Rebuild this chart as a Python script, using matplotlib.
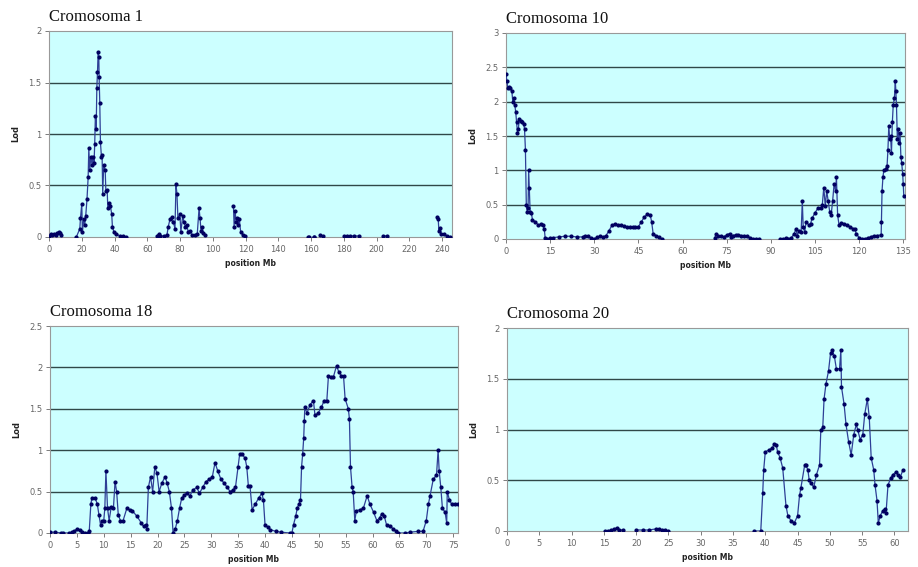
import numpy as np
import matplotlib
matplotlib.use("Agg")
import matplotlib.pyplot as plt
from matplotlib.ticker import FuncFormatter

nan = np.nan

# Cromosoma 1 (nan breaks the line between marker blocks)
chr1_pos = [0, 1, 2, 3, 4, 5, 6, 7, 7.5, nan,
            16.7, 18.8, 19.2, 20, 20.4, 21.2, 21.8, 22.4, 23.2, 23.9, 24.3, 24.9,
            25.5, 26.3, 26.9, 27.5, 27.9, 28.3, 28.8, 29.2, 29.6, 30, 30.4, 30.6,
            31, 31.4, 32, 32.4, 32.8, 33.4, 34.3, 34.7, 35.5, 35.9, 36.7, 37.5,
            38.3, 38.7, 39.6, 41.2, 43.2, 45, 47.3, nan,
            65.7, 67, 68, 70, 72, 72.8, 73.8, 74.8, 75.9, 76.9, 77.5, 78.1,
            78.7, 79.9, 80.5, 81.6, 82.4, 83.2, 84, 85, 86.1, 87.1, 89.1, 90.5,
            91.6, 92.2, 92.8, 93.4, 94.2, 95.2, nan,
            112.6, 113, 113.6, 114.2, 115, 115.6, 116.2, 117, 118.3, 119.7, nan,
            158.4, 159, nan, 161.5, 162, nan, 165.6, 167.2, nan,
            179.9, 182, 184, 186, 189, nan, 203.9, 206.4, nan,
            237, 237.6, 238, 238.6, 239.4, 241, 243, 244.7]
chr1_lod = [0.01, 0.03, 0.02, 0.03, 0.02, 0.04, 0.05, 0.04, 0.02, nan,
            0.0, 0.08, 0.18, 0.32, 0.05, 0.17, 0.12, 0.2, 0.37, 0.58, 0.86, 0.65,
            0.78, 0.7, 0.78, 0.72, 0.9, 1.17, 1.05, 1.45, 1.6, 1.8, 1.75, 1.55,
            1.3, 0.92, 0.78, 0.8, 0.42, 0.7, 0.65, 0.45, 0.46, 0.28, 0.33, 0.3,
            0.22, 0.1, 0.05, 0.03, 0.01, 0.01, 0.0, nan,
            0.01, 0.03, 0.01, 0.01, 0.02, 0.1, 0.17, 0.19, 0.15, 0.08, 0.51, 0.42,
            0.18, 0.22, 0.05, 0.2, 0.15, 0.1, 0.12, 0.05, 0.06, 0.02, 0.02, 0.03,
            0.28, 0.18, 0.06, 0.1, 0.04, 0.02, nan,
            0.3, 0.1, 0.25, 0.15, 0.18, 0.12, 0.17, 0.05, 0.02, 0.01, nan,
            0.0, 0.0, nan, 0.0, 0.0, nan, 0.02, 0.01, nan,
            0.01, 0.01, 0.01, 0.01, 0.01, nan, 0.01, 0.01, nan,
            0.19, 0.17, 0.06, 0.09, 0.03, 0.03, 0.01, 0.0]

# Cromosoma 10
chr10_pos = [0, 0.3, 0.6, 1, 1.5, 2, 2.3, 2.6, 3, 3.3,
             3.6, 3.9, 4.2, 4.5, 5, 5.5, 6, 6.3, 6.6, 6.9,
             7.2, 7.5, 7.7, 7.9, 8.2, 8.6, 9, 10, 11, 12,
             12.5, 13, 13.3, 14, 15, 16, 18, 20, 22, 24,
             26, 27, 28, 29, 30, 31, 32, 33, 34, 35,
             36, 37, 38, 39, 40, 41, 42, 43, 44, 45,
             46, 47, 48, 49, 49.5, 50, 51, 52, 53, nan,
             71, 71.5, 72, 73, 74, 75, 76, 76.5, 77, 78,
             79, 80, 81, 82, 83, 84, 85, 86, nan,
             93, 94, 95, 96, 97, 98, 98.5, 99, 99.5, 100.3,
             100.7, 101, 101.5, 102, 103, 103.5, 104, 105, 106, 107,
             107.5, 108, 108.5, 109, 109.5, 110, 110.5, 111, 111.5, 112,
             112.3, 112.7, 113.2, 114, 115, 116, 117, 118, 118.5, 119,
             120, 121, 122, 123, 124, 125, 126, 127.5, 127.6, 127.8,
             128.1, 128.4, 129, 129.5, 129.8, 130.1, 130.4, 130.7, 131, 131.3,
             131.6, 132, 132.3, 132.5, 132.7, 133, 133.3, 133.6, 133.9, 134.2,
             134.5, 134.8, 135, 135.2]
chr10_lod = [2.4, 2.3, 2.2, 2.22, 2.2, 2.15, 2.0, 2.05, 1.95, 1.85,
             1.7, 1.55, 1.6, 1.75, 1.72, 1.7, 1.68, 1.6, 1.3, 0.5,
             0.4, 0.45, 1.0, 0.75, 0.4, 0.38, 0.28, 0.25, 0.2, 0.22,
             0.2, 0.15, 0.02, 0.0, 0.01, 0.02, 0.03, 0.04, 0.04, 0.03,
             0.03, 0.05, 0.04, 0.01, 0.0, 0.03, 0.04, 0.03, 0.05, 0.12,
             0.2, 0.22, 0.2, 0.2, 0.19, 0.18, 0.18, 0.18, 0.17, 0.18,
             0.25, 0.32, 0.36, 0.35, 0.25, 0.08, 0.05, 0.03, 0.0, nan,
             0.02, 0.08, 0.04, 0.05, 0.03, 0.06, 0.08, 0.03, 0.05, 0.06,
             0.06, 0.05, 0.05, 0.04, 0.02, 0.0, 0.0, 0.0, nan,
             0.0, 0.0, 0.01, 0.0, 0.02, 0.08, 0.15, 0.05, 0.12, 0.1,
             0.55, 0.18, 0.1, 0.25, 0.2, 0.22, 0.3, 0.38, 0.45, 0.45,
             0.5, 0.75, 0.48, 0.7, 0.55, 0.4, 0.35, 0.55, 0.8, 0.7,
             0.9, 0.35, 0.2, 0.24, 0.22, 0.2, 0.18, 0.15, 0.15, 0.08,
             0.02, 0.0, 0.0, 0.02, 0.03, 0.05, 0.05, 0.06, 0.25, 0.7,
             0.9, 1.0, 1.02, 1.06, 1.3, 1.65, 1.45, 1.5, 1.25, 1.7,
             1.95, 2.05, 2.3, 2.15, 1.95, 1.45, 1.6, 1.4, 1.55, 1.2,
             1.1, 0.95, 0.8, 0.62]

# Cromosoma 18
chr18_pos = [0, 1, 2, 2.5, 3.5, 4, 4.5, 5, 5.5, 6,
             6.5, 7, 7.3, 7.6, 7.8, 8.4, 8.8, 9.1, 9.4, 9.7,
             10, 10.2, 10.4, 10.7, 11, 11.4, 11.8, 12.1, 12.4, 12.7,
             13.1, 13.6, 14.3, 14.8, 15.3, 16.2, 17, 17.4, 17.8, 18,
             18.3, 18.7, 19.1, 19.5, 19.9, 20.3, 20.8, 21.4, 21.8, 22.2,
             22.6, 22.9, 23.3, 23.7, 24.1, 24.5, 25, 25.4, 26, 26.6,
             27.3, 27.8, 28.4, 29, 29.6, 30.2, 30.7, 31.2, 31.8, 32.4,
             33, 33.5, 34, 34.5, 35, 35.3, 35.8, 36.3, 36.6, 36.9,
             37.2, 37.6, 38.2, 38.8, 39.4, 39.7, 40, 40.5, 41, 42,
             43, 44.6, 45, 45.3, 45.7, 46, 46.3, 46.6, 46.8, 47,
             47.2, 47.3, 47.4, 47.8, 48.4, 49, 49.3, 49.9, 50.5, 51,
             51.5, 51.8, 52.2, 52.7, 53.3, 53.7, 54.2, 54.6, 54.9, 55.5,
             55.7, 55.9, 56.2, 56.4, 56.7, 57, 57.6, 58.3, 59, 59.5,
             60.2, 60.8, 61.3, 61.7, 62.2, 62.6, 63.2, 63.9, 64.3, 64.8,
             66, 67, 68.5, 69.4, 70, 70.4, 70.7, 71.3, 71.9, 72.2,
             72.4, 72.7, 73, 73.5, 73.8, 73.9, 74.3, 74.7, 75.3, 75.9]
chr18_lod = [0.01, 0.01, 0.0, 0.0, 0.0, 0.01, 0.02, 0.05, 0.04, 0.01,
             0.0, 0.0, 0.02, 0.35, 0.42, 0.42, 0.35, 0.22, 0.1, 0.15,
             0.15, 0.3, 0.75, 0.3, 0.15, 0.32, 0.3, 0.62, 0.5, 0.22,
             0.15, 0.15, 0.3, 0.28, 0.27, 0.2, 0.12, 0.08, 0.1, 0.05,
             0.55, 0.68, 0.5, 0.8, 0.72, 0.5, 0.6, 0.68, 0.6, 0.5,
             0.3, 0.0, 0.05, 0.15, 0.3, 0.42, 0.46, 0.48, 0.45, 0.52,
             0.55, 0.48, 0.55, 0.62, 0.65, 0.68, 0.85, 0.75, 0.65, 0.6,
             0.55, 0.5, 0.52, 0.55, 0.8, 0.96, 0.95, 0.9, 0.8, 0.57,
             0.57, 0.28, 0.35, 0.42, 0.48, 0.4, 0.1, 0.07, 0.04, 0.02,
             0.01, 0.0, 0.0, 0.1, 0.2, 0.3, 0.35, 0.4, 0.8, 0.95,
             1.15, 1.35, 1.52, 1.45, 1.55, 1.6, 1.42, 1.45, 1.52, 1.6,
             1.6, 1.9, 1.88, 1.88, 2.02, 1.95, 1.9, 1.9, 1.62, 1.5,
             1.38, 0.8, 0.55, 0.5, 0.15, 0.27, 0.28, 0.3, 0.45, 0.35,
             0.25, 0.15, 0.18, 0.23, 0.2, 0.1, 0.08, 0.05, 0.03, 0.0,
             0.0, 0.01, 0.02, 0.02, 0.15, 0.35, 0.45, 0.65, 0.7, 1.0,
             0.75, 0.55, 0.3, 0.25, 0.12, 0.5, 0.4, 0.35, 0.35, 0.35]

# Cromosoma 20
chr20_pos = [15.1, 15.6, 16.1, 16.6, 17, 17.4, 17.9, nan,
             20, 21, 22, 23, 23.5, 24, 24.5, 24.9, nan,
             38.3, 39.3, 39.6, 39.75, 40, 40.6, 41.1, 41.4, 41.7, 41.9,
             42.3, 42.7, 43.2, 43.5, 44, 44.5, 45, 45.3, 45.5, 46.1,
             46.3, 46.6, 46.8, 47.1, 47.5, 47.9, 48.4, 48.6, 48.9, 49.1,
             49.4, 49.8, 50.1, 50.4, 50.7, 51, 51.5, 51.7, 51.8, 52.2,
             52.5, 52.9, 53.3, 53.7, 54.1, 54.3, 54.7, 55.1, 55.4, 55.8,
             56.1, 56.4, 56.8, 57, 57.3, 57.5, 57.8, 58.2, 58.5, 58.7,
             59, 59.4, 59.7, 60.2, 60.6, 60.9, 61.3]
chr20_lod = [0.0, 0.0, 0.01, 0.02, 0.03, 0.01, 0.01, nan,
             0.01, 0.01, 0.01, 0.02, 0.02, 0.01, 0.01, 0.0, nan,
             0.0, 0.0, 0.37, 0.6, 0.78, 0.8, 0.82, 0.86, 0.85, 0.78,
             0.72, 0.62, 0.25, 0.15, 0.1, 0.08, 0.15, 0.35, 0.42, 0.65,
             0.65, 0.6, 0.5, 0.47, 0.43, 0.55, 0.65, 1.0, 1.02, 1.3,
             1.45, 1.58, 1.75, 1.78, 1.72, 1.6, 1.6, 1.78, 1.42, 1.25,
             1.05, 0.88, 0.75, 0.95, 1.05, 1.0, 0.9, 0.95, 1.15, 1.3,
             1.12, 0.72, 0.6, 0.45, 0.3, 0.08, 0.15, 0.2, 0.22, 0.18,
             0.45, 0.52, 0.55, 0.58, 0.55, 0.53, 0.6]

panels = [
    ("Cromosoma 1", chr1_pos, chr1_lod, 246, np.arange(0, 241, 20), 2.0,
     [49, 31, 452, 237]),
    ("Cromosoma 10", chr10_pos, chr10_lod, 135.6, np.arange(0, 136, 15), 3.0,
     [506, 33, 905, 239]),
    ("Cromosoma 18", chr18_pos, chr18_lod, 75.9, np.arange(0, 76, 5), 2.5,
     [50, 326, 458, 533]),
    ("Cromosoma 20", chr20_pos, chr20_lod, 62.1, np.arange(0, 61, 5), 2.0,
     [507, 328, 908, 531]),
]

W, H = 918, 567
fig = plt.figure(figsize=(W / 100, H / 100), dpi=100)

fmt = FuncFormatter(lambda v, p: "%g" % v)

for title, pos, lod, xmax, xt, ymax, (l, t, r, b) in panels:
    ax = fig.add_axes([l / W, 1 - b / H, (r - l) / W, (b - t) / H])
    ax.set_facecolor("#ccffff")
    yt = np.arange(0, ymax + 0.01, 0.5)
    for v in yt[1:-1]:
        ax.axhline(v, color="#304848", lw=1.0, zorder=1)
    ax.plot(pos, lod, color="#2e3f96", lw=0.9, marker="o", ms=2.0,
            mfc="#000060", mec="#000060", zorder=3)
    ax.set_xlim(0, xmax)
    ax.set_ylim(0, ymax)
    ax.set_xticks(xt)
    ax.set_yticks(yt)
    ax.xaxis.set_major_formatter(fmt)
    ax.yaxis.set_major_formatter(fmt)
    ax.tick_params(labelsize=6, colors="#666666", length=3, width=0.6,
                   pad=2.5)
    for s in ax.spines.values():
        s.set_color("#999999")
        s.set_linewidth(0.8)
    ax.set_xlabel("position Mb", fontsize=5.5, fontweight="bold",
                  color="#222222", labelpad=4)
    ax.set_ylabel("Lod", fontsize=6, fontweight="bold", color="#222222",
                  labelpad=6)
    ax.text(0.0, 1.03, title, transform=ax.transAxes, ha="left",
            va="bottom", fontsize=12, family="Liberation Serif",
            color="#111111")

fig.savefig("out.png", dpi=100)
